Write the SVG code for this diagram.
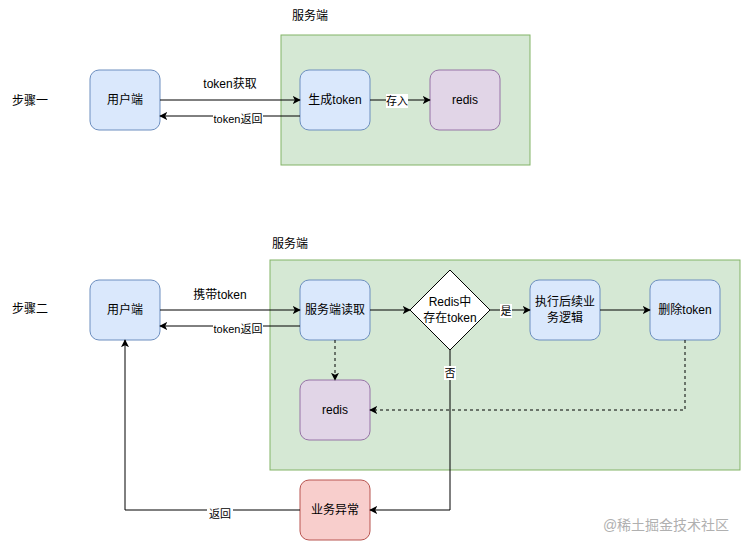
<svg xmlns="http://www.w3.org/2000/svg" width="741" height="541" viewBox="0 0 741 541">
<style>
text{font-family:"Liberation Sans","Noto Sans CJK SC",sans-serif;font-size:12px;fill:#000;text-anchor:middle;dominant-baseline:central}
.lbl{font-size:11px}
.blue{fill:#dae8fc;stroke:#6c8ebf;stroke-width:1}
.purple{fill:#e1d5e7;stroke:#9673a6;stroke-width:1}
.red{fill:#f8cecc;stroke:#b85450;stroke-width:1}
.green{fill:#d5e8d4;stroke:#82b366;stroke-width:1}
.edge{fill:none;stroke:#000;stroke-width:1;marker-end:url(#arr)}
.dash{stroke-dasharray:3 3}
.bg{fill:#fff}
</style>
<defs>
<marker id="arr" viewBox="0 0 10 10" refX="9" refY="5" markerWidth="8" markerHeight="8" markerUnits="userSpaceOnUse" orient="auto">
<path d="M0,0 L10,5 L0,10 L2.5,5 Z" fill="#000"/>
</marker>
</defs>
<rect width="741" height="541" fill="#fff"/>

<g id="container1"><rect class="green" x="281" y="35" width="249" height="130"/><text x="310" y="16">服务端</text></g>
<g id="container2"><rect class="green" x="270" y="260" width="470" height="210"/><text x="290" y="244">服务端</text></g>

<g id="step1"><text x="30" y="101">步骤一</text></g>
<g id="step2"><text x="30" y="309">步骤二</text></g>

<g id="client1"><rect class="blue" x="90" y="70" width="70" height="60" rx="9"/><text x="125" y="100">用户端</text></g>
<g id="gen"><rect class="blue" x="300" y="70" width="70" height="60" rx="9"/><text x="335" y="100">生成token</text></g>
<g id="redis1"><rect class="purple" x="430" y="70" width="70" height="60" rx="9"/><text x="465" y="100">redis</text></g>

<g id="client2"><rect class="blue" x="90" y="280" width="70" height="60" rx="9"/><text x="125" y="310">用户端</text></g>
<g id="read"><rect class="blue" x="300" y="280" width="70" height="60" rx="9"/><text x="335" y="310">服务端读取</text></g>
<g id="decision"><path d="M450,270 L490,310 L450,350 L410,310 Z" fill="#fff" stroke="#000"/><text x="450" y="302">Redis中</text><text x="450" y="318">存在token</text></g>
<g id="exec"><rect class="blue" x="530" y="280" width="70" height="60" rx="9"/><text x="565" y="302">执行后续业</text><text x="565" y="318">务逻辑</text></g>
<g id="del"><rect class="blue" x="650" y="280" width="70" height="60" rx="9"/><text x="685" y="310">删除token</text></g>
<g id="redis2"><rect class="purple" x="300" y="380" width="70" height="60" rx="9"/><text x="335" y="410">redis</text></g>
<g id="exception"><rect class="red" x="300" y="480" width="70" height="60" rx="9"/><text x="335" y="510">业务异常</text></g>

<g id="edges">
<path class="edge" d="M160,100 L300,100"/>
<text x="230" y="84">token获取</text>
<path class="edge" d="M300,116 L160,116"/>
<rect class="bg" x="213" y="112" width="50" height="13"/>
<text class="lbl" x="238" y="119">token返回</text>
<path class="edge" d="M370,100 L430,100"/>
<rect class="bg" x="386" y="94" width="22" height="14"/>
<text class="lbl" x="397" y="101">存入</text>

<path class="edge" d="M160,310 L300,310"/>
<text x="220" y="295">携带token</text>
<path class="edge" d="M300,326 L160,326"/>
<rect class="bg" x="213" y="322" width="50" height="13"/>
<text class="lbl" x="238" y="329">token返回</text>
<path class="edge" d="M370,310 L410,310"/>
<path class="edge" d="M490,310 L530,310"/>
<rect class="bg" x="500" y="304" width="12" height="14"/>
<text class="lbl" x="506" y="311">是</text>
<path class="edge" d="M600,310 L650,310"/>
<path class="edge dash" d="M335,340 L335,380"/>
<path class="edge dash" d="M685,340 L685,410 L370,410"/>
<path class="edge" d="M450,350 L450,510 L370,510"/>
<rect class="bg" x="444" y="366" width="12" height="14"/>
<text class="lbl" x="450" y="373">否</text>
<path class="edge" d="M300,510 L125,510 L125,340"/>
<rect class="bg" x="207" y="507" width="26" height="13"/>
<text class="lbl" x="220" y="514">返回</text>
</g>

<text x="666" y="525" style="font-size:14px;fill:#b0b0b0">@稀土掘金技术社区</text>
</svg>
